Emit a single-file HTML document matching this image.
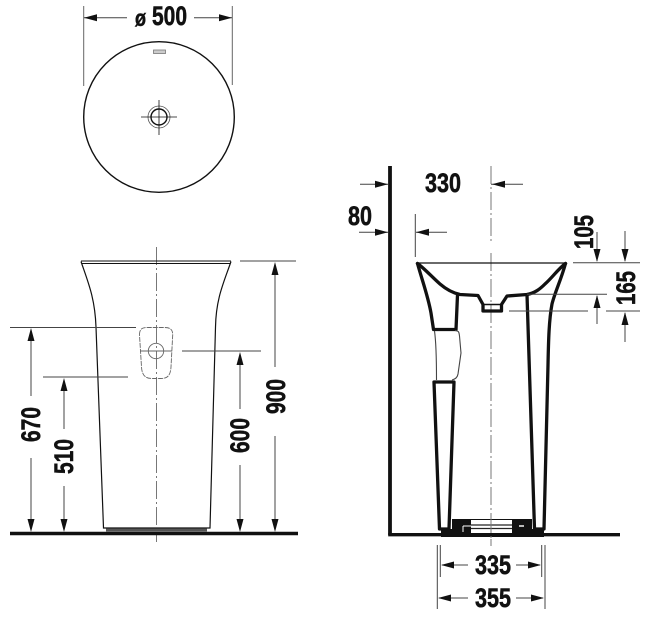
<!DOCTYPE html>
<html>
<head>
<meta charset="utf-8">
<style>
html,body{margin:0;padding:0;background:#fff;width:659px;height:630px;overflow:hidden}
svg{display:block}
text{font-family:"Liberation Sans",sans-serif;font-weight:bold;font-size:26.5px;fill:#111;stroke:#111;stroke-width:.55px}
</style>
</head>
<body>
<svg width="659" height="630" viewBox="0 0 659 630" xmlns="http://www.w3.org/2000/svg">
<rect width="659" height="630" fill="#fff"/>

<!-- TOP VIEW -->
<g fill="none" stroke="#111">
  <circle cx="159" cy="117" r="75.3" stroke-width="1.4"/>
  <circle cx="159" cy="117" r="11" stroke-width=".8" stroke="#555"/>
  <circle cx="159" cy="117" r="8" stroke-width="1.4"/>
  <path d="M141 117H177M159 100V135" stroke-width=".8"/>
</g>
<rect x="153.500" y="50" width="12" height="3.500" fill="#ccc" stroke="#777" stroke-width=".8"/>
<path d="M83.700 6V86M232.300 6V85" stroke="#666" stroke-width="1" fill="none"/>
<path d="M84 17.700H127M194 17.700H232" stroke="#444" stroke-width="1" fill="none"/>
<path d="M84 17.700l13-3.500v7zM232 17.700l-13-3.500v7z" fill="#111"/>
<text x="135" y="26" textLength="11" lengthAdjust="spacingAndGlyphs" style="font-size:23px">ø</text>
<text x="152" y="25" textLength="35" lengthAdjust="spacingAndGlyphs">500</text>

<!-- FRONT VIEW -->
<path d="M156.500 247V542" stroke="#777" stroke-width="1" stroke-dasharray="18 3 2 3" fill="none"/>
<path d="M81 261H231M82 263.500H230" stroke="#111" fill="none" stroke-width="1"/>
<path d="M81 261.500C88 282 95 298 96 327L103.500 528H210L215.500 327C216 298 224 282 231 261.500" fill="none" stroke="#111" stroke-width="1.200"/>
<rect x="106" y="528.500" width="101" height="3" fill="#555"/>
<path d="M10 533.500H298" stroke="#111" stroke-width="3.600" fill="none"/>

<g fill="none" stroke="#666" stroke-width=".9">
  <path d="M139.500 335C139.500 329 142 327.500 148 327.500H164C170 327.500 172.700 329 172.700 335L171 367C170.500 376 167 378.500 161 378.500H152C146 378.500 142 376 141.500 367Z" stroke-dasharray="5 1"/>
  <circle cx="156" cy="351" r="7.700"/>
  <path d="M140 351H172"/>
</g>

<g fill="none" stroke="#444" stroke-width="1">
  <path d="M10 327.500H136M43 377H128M182 351H261M240 261H296"/>
  <path d="M31 330V396M31 458V530M64 380V429M64 486V530M240 354V409M240 465V530M275 264V367M275 436V530"/>
</g>
<path d="M31 328l-3.500 13h7zM31 532l-3.500-13h7zM64 378l-3.500 13h7zM64 532l-3.500-13h7zM240 352l-3.500 13h7zM240 532l-3.500-13h7zM275 262l-3.500 13h7zM275 532l-3.500-13h7z" fill="#111"/>
<text transform="translate(40 442) rotate(-90)" textLength="35" lengthAdjust="spacingAndGlyphs">670</text>
<text transform="translate(73 474) rotate(-90)" textLength="35" lengthAdjust="spacingAndGlyphs">510</text>
<text transform="translate(249 453) rotate(-90)" textLength="35" lengthAdjust="spacingAndGlyphs">600</text>
<text transform="translate(285 414) rotate(-90)" textLength="35" lengthAdjust="spacingAndGlyphs">900</text>

<!-- SIDE VIEW -->
<path d="M491 166V242M491 253V546" stroke="#777" stroke-width="1" stroke-dasharray="18 3 2 3" fill="none"/>
<path d="M390 166V535" stroke="#111" stroke-width="3.800" fill="none"/>
<path d="M388.200 534.700H620" stroke="#111" stroke-width="3.400" fill="none"/>
<path d="M417 263H566" stroke="#111" stroke-width="1.300" fill="none"/>

<g fill="none" stroke="#111" stroke-width="3.300" stroke-linejoin="round" stroke-linecap="round">
  <path d="M417.500 263.500C425 269 433 278 440 284C447 290 453 293 460 294.500L478 295.500L483 304.500V311H501.500V304.500L507 296L527 294.500C535 293 540 289 545 284C552 278 558 269 565.500 263.500"/>
  <path d="M417.500 263.500C422 280 428 296 431 313L433.500 329.500H456L457.500 295"/>
  <path d="M565.500 263.500C561 280 555 292 552 304C549 320 548.500 340 548 365L544 529H534.500L527 294.500"/>
  <path d="M434 382H454L449 529H439.500L434 382Z"/>
</g>
<path d="M483.500 304.500H501" stroke="#111" stroke-width="1.500"/>
<path d="M434.500 331C436.500 345 436.500 365 436.500 380M455 330.500C459 331 459 332 459.500 336L461 353L458 374C457.500 377 456 379 452 380" fill="none" stroke="#444" stroke-width="1.100"/>

<!-- base -->
<rect x="452" y="519" width="80" height="15" fill="#111"/>
<rect x="471" y="520" width="41" height="13" fill="#fff"/>
<path d="M471 525H512M471 528.500H512" stroke="#222" stroke-width="1.200" fill="none"/>
<path d="M441 529H471V533H512V529H544V537H441Z" fill="#111"/>
<path d="M463 526H471M463 526V532" stroke="#fff" stroke-width="1" fill="none"/>
<rect x="519" y="525" width="5" height="2" fill="#bbb"/>
<path d="M491 519V546" stroke="#777" stroke-width="1" stroke-dasharray="14 3 2 3" fill="none"/>

<!-- side dims -->
<g fill="none" stroke="#444" stroke-width="1">
  <path d="M360 184.300H388M491 184.300H523M359 232.300H388M415.300 214V257M416 232.300H447"/>
  <path d="M573 262.700H640M527 294.300H607M509 311H588M606 311H640"/>
  <path d="M597 232V261M625 231V261M597 296V324M625 313V342"/>
  <path d="M440.300 545V577M541.700 545V577M437.300 545V609M545 545V609"/>
  <path d="M442 565H468M516 565H540M439 598H468M516 598H543"/>
</g>
<path d="M388 184.300l-13-3.500v7zM492 184.300l13-3.500v7zM388 232.300l-13-3.500v7zM416 232.300l13-3.500v7z" fill="#111"/>
<path d="M597 262l-3.500-13h7zM625 262l-3.500-13h7zM597 295l-3.500 13h7zM625 312l-3.500 13h7z" fill="#111"/>
<path d="M441 565l13-3.500v7zM541 565l-13-3.500v7zM438 598l13-3.500v7zM544 598l-13-3.500v7z" fill="#111"/>

<text x="425" y="192" textLength="36" lengthAdjust="spacingAndGlyphs">330</text>
<text x="348" y="225" textLength="24" lengthAdjust="spacingAndGlyphs">80</text>
<text transform="translate(593 249) rotate(-90)" textLength="34" lengthAdjust="spacingAndGlyphs">105</text>
<text transform="translate(635 305) rotate(-90)" textLength="34" lengthAdjust="spacingAndGlyphs">165</text>
<text x="475" y="574" textLength="36" lengthAdjust="spacingAndGlyphs">335</text>
<text x="475" y="607" textLength="36" lengthAdjust="spacingAndGlyphs">355</text>
</svg>
</body>
</html>
